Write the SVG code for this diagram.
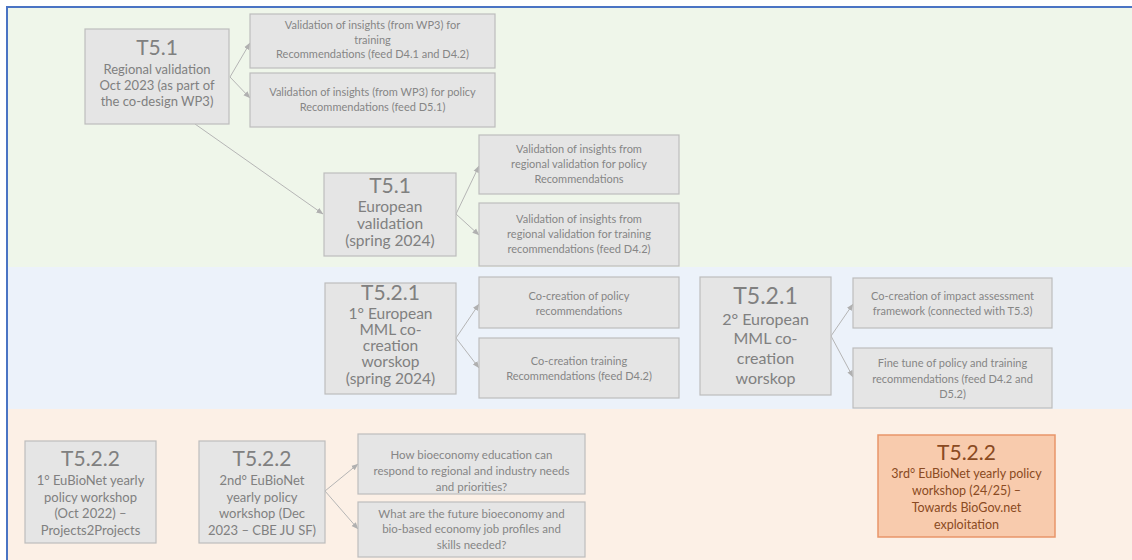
<svg xmlns="http://www.w3.org/2000/svg" width="1132" height="560" viewBox="0 0 1132 560">
  <style>
    .box { fill: #e5e5e5; stroke: #bdbdbd; stroke-width: 1.2; }
    .hot { fill: #f8cbad; stroke: #e8956a; stroke-width: 1.5; }
    text { font-family: Lato, "Open Sans", "Liberation Sans", sans-serif; fill: #808080; text-anchor: middle; }
    .h { font-size: 21px; }
    .h2 { font-size: 23px; }
    .m { font-size: 13px; }
    .l { font-size: 15.5px; }
    .s { font-size: 11px; fill: #868686; }
    .hot-t { fill: #8a4a22; }
    .link { fill: none; stroke: #b5b5b5; stroke-width: 1; marker-end: url(#tip); }
  </style>
  <defs>
    <marker id="tip" viewBox="0 0 8 8" refX="7.5" refY="4" markerWidth="7" markerHeight="7" orient="auto" markerUnits="userSpaceOnUse">
      <path d="M0,0.8 L8,4 L0,7.2 Z" fill="#b0b0b0"/>
    </marker>
  </defs>

  <!-- swim lanes -->
  <g id="lanes">
    <rect x="7" y="7" width="1125" height="260" fill="#eff6ea"/>
    <rect x="7" y="267" width="1125" height="142" fill="#ecf2fa"/>
    <rect x="7" y="409" width="1125" height="151" fill="#fcf0e6"/>
    <line x1="6" y1="7" x2="1132" y2="7" stroke="#4a74c4" stroke-width="2"/>
    <line x1="7" y1="6" x2="7" y2="560" stroke="#4a74c4" stroke-width="2"/>
  </g>

  <!-- connectors -->
  <g id="connectors">
    <line class="link" x1="230" y1="77" x2="250" y2="43"/>
    <line class="link" x1="230" y1="77" x2="250" y2="98"/>
    <line class="link" x1="195" y1="124" x2="323" y2="214"/>
    <line class="link" x1="456" y1="214" x2="479" y2="166"/>
    <line class="link" x1="456" y1="214" x2="479" y2="235"/>
    <line class="link" x1="456" y1="338" x2="479" y2="304"/>
    <line class="link" x1="456" y1="338" x2="479" y2="368"/>
    <line class="link" x1="831" y1="336" x2="853" y2="304"/>
    <line class="link" x1="831" y1="336" x2="853" y2="377"/>
    <line class="link" x1="325" y1="491" x2="358" y2="464"/>
    <line class="link" x1="325" y1="491" x2="358" y2="529"/>
  </g>

  <!-- WP5.1 lane -->
  <g id="t51-regional">
    <rect class="box" x="85" y="29" width="144" height="95"/>
    <text class="h" x="157" y="55">T5.1</text>
    <text class="m"><tspan x="157" y="74">Regional validation</tspan><tspan x="157" y="90">Oct 2023  (as part of</tspan><tspan x="157" y="106">the co-design WP3)</tspan></text>
  </g>
  <g id="wp3-training">
    <rect class="box" x="250" y="14" width="245" height="54"/>
    <text class="s"><tspan x="372.5" y="29">Validation of insights (from WP3) for</tspan><tspan x="372.5" y="43.5">training</tspan><tspan x="372.5" y="58">Recommendations (feed D4.1 and D4.2)</tspan></text>
  </g>
  <g id="wp3-policy">
    <rect class="box" x="250" y="73" width="245" height="54"/>
    <text class="s"><tspan x="372.5" y="96">Validation of insights (from WP3) for policy</tspan><tspan x="372.5" y="110.5">Recommendations (feed D5.1)</tspan></text>
  </g>
  <g id="t51-european">
    <rect class="box" x="324" y="173" width="132" height="83"/>
    <text class="h" x="390" y="193">T5.1</text>
    <text class="l"><tspan x="390" y="212">European</tspan><tspan x="390" y="229">validation</tspan><tspan x="390" y="246">(spring 2024)</tspan></text>
  </g>
  <g id="regional-policy">
    <rect class="box" x="479" y="135" width="200" height="59"/>
    <text class="s"><tspan x="579" y="153">Validation of insights from</tspan><tspan x="579" y="168">regional validation for policy</tspan><tspan x="579" y="183">Recommendations</tspan></text>
  </g>
  <g id="regional-training">
    <rect class="box" x="479" y="203" width="200" height="63"/>
    <text class="s"><tspan x="579" y="223">Validation of insights from</tspan><tspan x="579" y="238">regional validation for training</tspan><tspan x="579" y="253">recommendations (feed D4.2)</tspan></text>
  </g>

  <!-- WP5.2.1 lane -->
  <g id="t521-first">
    <rect class="box" x="325" y="283" width="131" height="111"/>
    <text class="h" x="390.5" y="300">T5.2.1</text>
    <text class="l"><tspan x="390.5" y="319">1° European</tspan><tspan x="390.5" y="335">MML co-</tspan><tspan x="390.5" y="351">creation</tspan><tspan x="390.5" y="367">worskop</tspan><tspan x="390.5" y="384">(spring 2024)</tspan></text>
  </g>
  <g id="cocreation-policy">
    <rect class="box" x="479" y="277" width="200" height="51"/>
    <text class="s"><tspan x="579" y="300">Co-creation of policy</tspan><tspan x="579" y="315">recommendations</tspan></text>
  </g>
  <g id="cocreation-training">
    <rect class="box" x="479" y="338" width="200" height="60"/>
    <text class="s"><tspan x="579" y="365">Co-creation training</tspan><tspan x="579" y="380">Recommendations (feed D4.2)</tspan></text>
  </g>
  <g id="t521-second">
    <rect class="box" x="700" y="277" width="131" height="118"/>
    <text class="h2" x="765.5" y="304">T5.2.1</text>
    <text class="l" style="font-size:16px"><tspan x="765.5" y="325">2° European</tspan><tspan x="765.5" y="344">MML co-</tspan><tspan x="765.5" y="364">creation</tspan><tspan x="765.5" y="384">worskop</tspan></text>
  </g>
  <g id="impact-framework">
    <rect class="box" x="853" y="278" width="199" height="50"/>
    <text class="s"><tspan x="952.5" y="300">Co-creation of impact assessment</tspan><tspan x="952.5" y="315">framework (connected with T5.3)</tspan></text>
  </g>
  <g id="fine-tune">
    <rect class="box" x="853" y="348" width="199" height="60"/>
    <text class="s"><tspan x="952.5" y="367">Fine tune of policy and training</tspan><tspan x="952.5" y="382.5">recommendations (feed D4.2 and</tspan><tspan x="952.5" y="398">D5.2)</tspan></text>
  </g>

  <!-- WP5.2.2 lane -->
  <g id="t522-first">
    <rect class="box" x="25" y="441" width="131" height="102"/>
    <text class="h" x="90.5" y="466">T5.2.2</text>
    <text class="m"><tspan x="90.5" y="485">1° EuBioNet yearly</tspan><tspan x="90.5" y="501.5">policy workshop</tspan><tspan x="90.5" y="518">(Oct 2022) –</tspan><tspan x="90.5" y="535">Projects2Projects</tspan></text>
  </g>
  <g id="t522-second">
    <rect class="box" x="199" y="441" width="126" height="102"/>
    <text class="h" x="262" y="466">T5.2.2</text>
    <text class="m"><tspan x="262" y="485">2nd° EuBioNet</tspan><tspan x="262" y="501.5">yearly policy</tspan><tspan x="262" y="518">workshop (Dec</tspan><tspan x="262" y="535">2023 – CBE JU SF)</tspan></text>
  </g>
  <g id="education-needs">
    <rect class="box" x="358" y="434" width="227" height="60"/>
    <text class="s" style="font-size:11.5px"><tspan x="471.5" y="459">How bioeconomy education can</tspan><tspan x="471.5" y="475">respond to regional and industry needs</tspan><tspan x="471.5" y="491">and priorities?</tspan></text>
  </g>
  <g id="job-profiles">
    <rect class="box" x="358" y="502" width="227" height="55"/>
    <text class="s" style="font-size:11.5px"><tspan x="471.5" y="518">What are the future bioeconomy and</tspan><tspan x="471.5" y="533">bio-based economy job profiles and</tspan><tspan x="471.5" y="549">skills needed?</tspan></text>
  </g>
  <g id="t522-third">
    <rect class="hot" x="878" y="435" width="177" height="102"/>
    <text class="h hot-t" x="966.5" y="460">T5.2.2</text>
    <text class="m hot-t" style="font-size:12.5px"><tspan x="966.5" y="478">3rd° EuBioNet yearly policy</tspan><tspan x="966.5" y="495">workshop (24/25) –</tspan><tspan x="966.5" y="512">Towards BioGov.net</tspan><tspan x="966.5" y="529">exploitation</tspan></text>
  </g>
</svg>
